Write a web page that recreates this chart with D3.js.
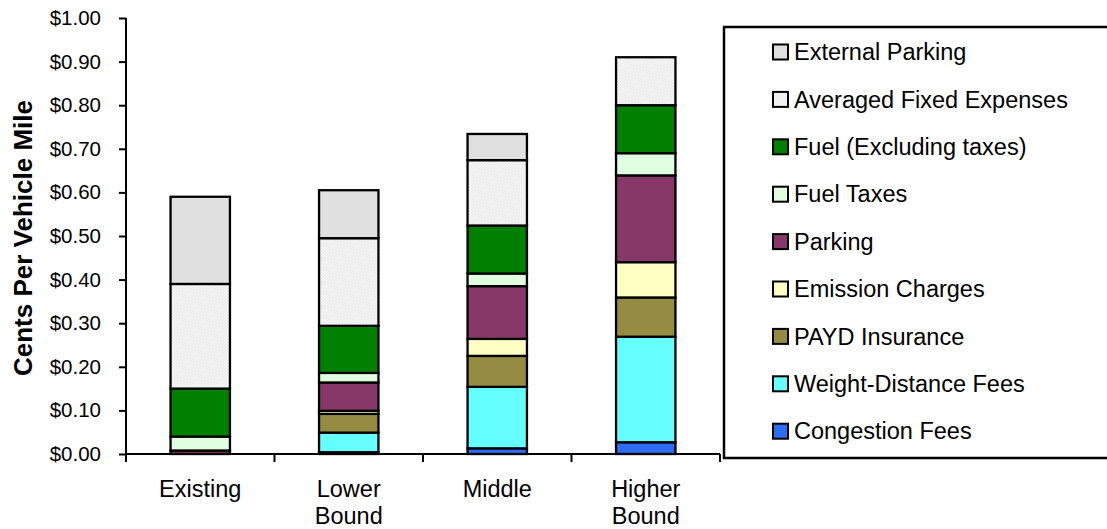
<!DOCTYPE html>
<html>
<head>
<meta charset="utf-8">
<script src="https://cdn.jsdelivr.net/npm/d3@7"></script>
<style>
  html, body { margin: 0; padding: 0; background: #fff; }
  svg { display: block; font-family: "Liberation Sans", Arial, sans-serif; }
</style>
</head>
<body>
<svg id="chart" width="1107" height="529"></svg>
<script>
// Scenario columns
const categories = [["Existing"], ["Lower", "Bound"], ["Middle"], ["Higher", "Bound"]];
const categoryKeys = ["Existing", "Lower Bound", "Middle", "Higher Bound"];

// Cost components, bottom of the stack first
const seriesNames = [
  "Congestion Fees",
  "Weight-Distance Fees",
  "PAYD Insurance",
  "Emission Charges",
  "Parking",
  "Fuel Taxes",
  "Fuel (Excluding taxes)",
  "Averaged Fixed Expenses",
  "External Parking"
];

// Dollars per vehicle mile, one value per scenario
const congestionFees     = [0.000, 0.004, 0.013, 0.027];
const weightDistanceFees = [0.000, 0.045, 0.141, 0.242];
const paydInsurance      = [0.000, 0.043, 0.071, 0.090];
const emissionCharges    = [0.000, 0.007, 0.039, 0.081];
const parking            = [0.008, 0.065, 0.121, 0.199];
const fuelTaxes          = [0.032, 0.022, 0.029, 0.051];
const fuelExTaxes        = [0.110, 0.108, 0.110, 0.110];
const averagedFixed      = [0.240, 0.201, 0.150, 0.110];
const externalParking    = [0.200, 0.110, 0.060, 0.000];

const yTicks = [0, 0.1, 0.2, 0.3, 0.4, 0.5, 0.6, 0.7, 0.8, 0.9, 1.0];

const seriesValues = [
  congestionFees, weightDistanceFees, paydInsurance, emissionCharges,
  parking, fuelTaxes, fuelExTaxes, averagedFixed, externalParking
];

const fills = {
  "Congestion Fees": "#2f6cf4",
  "Weight-Distance Fees": "#66ffff",
  "PAYD Insurance": "#968b42",
  "Emission Charges": "#ffffc4",
  "Parking": "#873868",
  "Fuel Taxes": "#e0ffe0",
  "Fuel (Excluding taxes)": "#008000",
  "Averaged Fixed Expenses": "url(#hatch)",
  "External Parking": "#e0e0e0"
};

const rows = categoryKeys.map((k, i) => {
  const r = { key: k };
  seriesNames.forEach((s, j) => r[s] = seriesValues[j][i]);
  return r;
});

const svg = d3.select("#chart");

// fine diagonal hatch for fixed expenses
const defs = svg.append("defs");
const pat = defs.append("pattern")
  .attr("id", "hatch").attr("patternUnits", "userSpaceOnUse")
  .attr("width", 3).attr("height", 3);
pat.append("rect").attr("width", 3).attr("height", 3).attr("fill", "#f7f7f7");
pat.append("path").attr("d", "M0,3 L3,0 M-1,1 L1,-1 M2,4 L4,2")
  .attr("stroke", "#e6e6e6").attr("stroke-width", 1);

const x = d3.scaleBand()
  .domain(categoryKeys)
  .range([126, 720])
  .paddingInner(0.6)
  .paddingOuter(0.3);

const y = d3.scaleLinear().domain([0, 1]).range([454, 18]);

const stacked = d3.stack().keys(seriesNames)(rows);

// bars
const layers = svg.append("g").selectAll("g")
  .data(stacked).join("g")
  .attr("fill", d => fills[d.key]);

layers.selectAll("rect")
  .data(d => d.filter(p => p[1] - p[0] > 0))
  .join("rect")
  .attr("x", d => x(d.data.key))
  .attr("width", x.bandwidth())
  .attr("y", d => y(d[1]))
  .attr("height", d => y(d[0]) - y(d[1]))
  .attr("stroke", "#000")
  .attr("stroke-width", 2.3);

// y axis
const yAxis = svg.append("g")
  .attr("transform", "translate(126,0)")
  .call(d3.axisLeft(y).tickValues(yTicks).tickSize(7).tickPadding(18)
    .tickFormat(d3.format("$.2f")));
yAxis.select(".domain").attr("stroke", "#000").attr("stroke-width", 2)
  .attr("d", "M0,18V454");
yAxis.selectAll(".tick line").attr("stroke", "#000").attr("stroke-width", 2);
yAxis.selectAll(".tick text").attr("font-size", 20.5).attr("fill", "#000")
  .attr("font-family", "Liberation Sans, Arial, sans-serif");

// x axis with ticks at band boundaries
const xg = svg.append("g").attr("transform", "translate(0,454)");
xg.append("line").attr("x1", 126).attr("x2", 720).attr("y1", 0).attr("y2", 0)
  .attr("stroke", "#000").attr("stroke-width", 2);
const edges = [126];
categoryKeys.forEach(k => edges.push(x(k) + x.bandwidth() / 2 + x.step() / 2));
xg.selectAll("line.tk").data(edges).join("line")
  .attr("class", "tk")
  .attr("x1", d => d).attr("x2", d => d)
  .attr("y1", 0).attr("y2", 8)
  .attr("stroke", "#000").attr("stroke-width", 2);

const catLabels = svg.append("g");
categories.forEach((lines, i) => {
  const cx = x(categoryKeys[i]) + x.bandwidth() / 2;
  const t = catLabels.append("text")
    .attr("text-anchor", "middle")
    .attr("font-size", 23.5)
    .attr("fill", "#000");
  lines.forEach((ln, j) => {
    t.append("tspan").attr("x", cx).attr("y", 497 + j * 27).text(ln);
  });
});

// y axis title
svg.append("text")
  .attr("transform", "translate(32,238) rotate(-90)")
  .attr("text-anchor", "middle")
  .attr("font-size", 26)
  .attr("font-weight", "bold")
  .attr("fill", "#000")
  .text("Cents Per Vehicle Mile");

// legend
const lg = svg.append("g");
lg.append("rect")
  .attr("x", 724).attr("y", 27).attr("width", 420).attr("height", 431)
  .attr("fill", "#fff").attr("stroke", "#000").attr("stroke-width", 2.5);

const legendOrder = seriesNames.slice().reverse();
const items = lg.selectAll("g.item").data(legendOrder).join("g")
  .attr("class", "item")
  .attr("transform", (d, i) => `translate(0,${52 + i * 47.4})`);
items.append("rect")
  .attr("x", 773).attr("y", -7.5).attr("width", 15).attr("height", 15)
  .attr("fill", d => fills[d]).attr("stroke", "#000").attr("stroke-width", 2);
items.append("text")
  .attr("x", 794).attr("y", 0).attr("dy", "0.35em")
  .attr("font-size", 23.5).attr("fill", "#000")
  .text(d => d);
</script>
</body>
</html>
